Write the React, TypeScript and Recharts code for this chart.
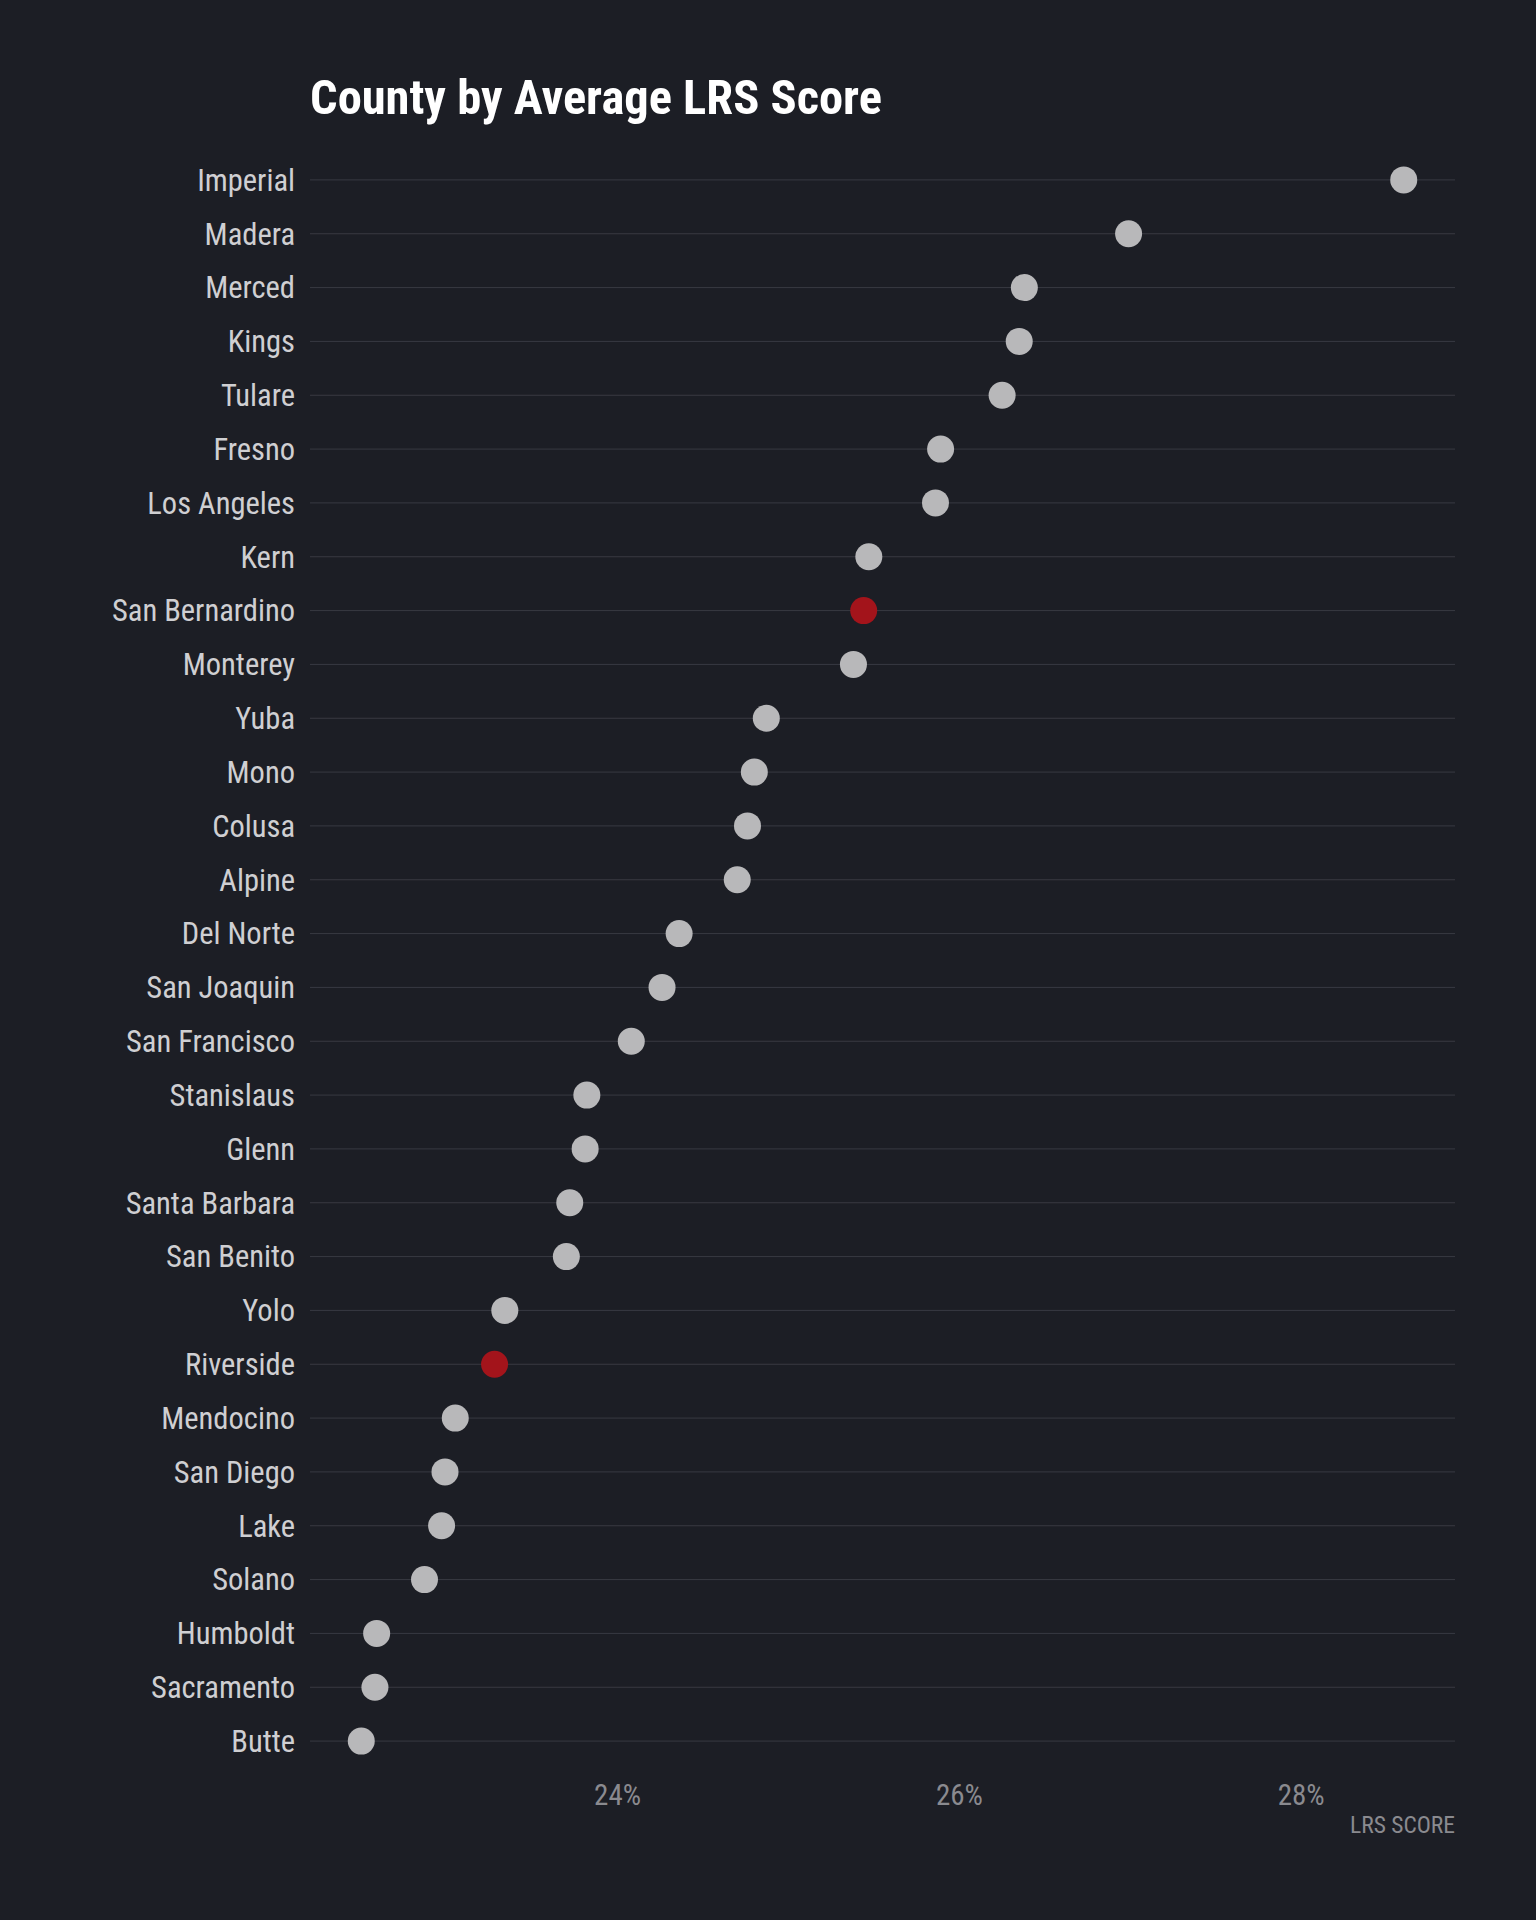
import React from "react";
import { ScatterChart, Scatter, XAxis, YAxis, CartesianGrid, Cell } from "recharts";

const counties = ["Imperial","Madera","Merced","Kings","Tulare","Fresno","Los Angeles","Kern","San Bernardino","Monterey","Yuba","Mono","Colusa","Alpine","Del Norte","San Joaquin","San Francisco","Stanislaus","Glenn","Santa Barbara","San Benito","Yolo","Riverside","Mendocino","San Diego","Lake","Solano","Humboldt","Sacramento","Butte"];
const scores = [28.6,26.99,26.38,26.35,26.25,25.89,25.86,25.47,25.44,25.38,24.87,24.8,24.76,24.7,24.36,24.26,24.08,23.82,23.81,23.72,23.7,23.34,23.28,23.05,22.99,22.97,22.87,22.59,22.58,22.5];
const highlighted = ["San Bernardino","Riverside"];
const xTicks = [24, 26, 28];

const data = counties.map((c, i) => ({ county: c, score: scores[i] }));
const FONT = "'Roboto Condensed', 'Liberation Sans Narrow', Roboto, sans-serif";

export default function App() {
  return (
    <div style={{ position: "absolute", left: 0, top: 0, width: 1536, height: 1920, background: "#1c1e25", fontFamily: FONT }}>
      <div style={{ position: "absolute", left: 310, top: 69, color: "#fff", fontSize: 48.5, fontWeight: 700, fontFamily: FONT }}>
        County by Average LRS Score
      </div>
      <div style={{ position: "absolute", right: 81, top: 1811, color: "#8a8a8f", fontSize: 23.5, fontFamily: FONT }}>
        LRS SCORE
      </div>
      <ScatterChart width={1536} height={1920} margin={{ top: 153, right: 81, bottom: 92, left: 0 }}>
        <CartesianGrid vertical={false} stroke="#383a42" strokeWidth={1} syncWithTicks />
        <XAxis type="number" dataKey="score" domain={[22.2, 28.9]} ticks={xTicks} allowDataOverflow
          tickFormatter={(v) => `${v}%`} axisLine={false} tickLine={false} height={60} tickMargin={10}
          tick={{ fill: "#8a8a8f", fontSize: 29, fontFamily: FONT }} />
        <YAxis type="category" dataKey="county" reversed width={310} axisLine={false} tickLine={false}
          tickMargin={9} interval={0} allowDuplicatedCategory={false}
          tick={{ fill: "#cfcfd2", fontSize: 30.5, fontFamily: FONT }} />
        <Scatter data={data} isAnimationActive={false}
          shape={(p: any) => <circle cx={p.cx} cy={p.cy} r={13.5} fill={p.fill} />}>
          {data.map((d) => (
            <Cell key={d.county} fill={highlighted.includes(d.county) ? "#a3141b" : "#b8b8ba"} />
          ))}
        </Scatter>
      </ScatterChart>
    </div>
  );
}
